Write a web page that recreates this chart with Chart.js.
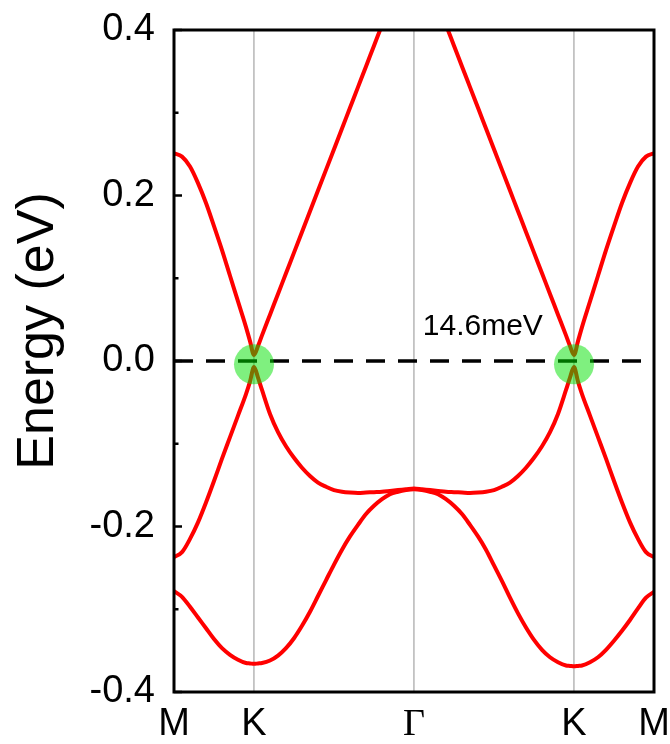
<!DOCTYPE html>
<html><head><meta charset="utf-8">
<script src="https://cdn.jsdelivr.net/npm/chart.js@4.4.1/dist/chart.umd.min.js"></script>
<style>html,body{margin:0;padding:0;background:#fff;} #wrap{width:670px;height:744px;}</style>
</head><body><div id="wrap"><canvas id="c" width="670" height="744"></canvas></div>
<script>
// k-path coordinate (M=0, K=1, Gamma=3, K=5, M=6)
const kPathX = [0,0.1,0.2,0.3,0.4,0.5,0.6,0.7,0.8,0.9,0.95,1,1.05,1.1,1.2,1.3,1.4,1.5,1.6,1.7,1.8,1.9,2,2.1,2.2,2.3,2.4,2.5,2.6,2.7,2.8,2.9,3,3.1,3.2,3.3,3.4,3.5,3.6,3.7,3.8,3.9,4,4.1,4.2,4.3,4.4,4.5,4.6,4.7,4.8,4.9,4.95,5,5.05,5.1,5.2,5.3,5.4,5.5,5.6,5.7,5.8,5.9,6];
const kLabelPos = [0,1,3,5,6];
const kLabels = ['M','K','Γ','K','M'];
const kGridPos = [1,3,5];
// band energies (eV)
const bandUpper = [0.251,0.247,0.235,0.215,0.191,0.163,0.134,0.103,0.072,0.041,0.024,0.0073,0.018,0.031,0.056,0.081,0.106,0.131,0.156,0.181,0.206,0.231,0.256,0.281,0.306,0.331,0.356,0.381,0.406,0.430,0.450,0.462,0.466,0.462,0.450,0.430,0.406,0.381,0.356,0.331,0.306,0.281,0.256,0.231,0.206,0.181,0.156,0.131,0.106,0.081,0.056,0.031,0.018,0.0073,0.024,0.041,0.072,0.103,0.134,0.163,0.191,0.215,0.235,0.247,0.251];
const bandMiddle = [-0.237,-0.231,-0.215,-0.195,-0.171,-0.145,-0.118,-0.092,-0.066,-0.040,-0.025,-0.0073,-0.020,-0.035,-0.064,-0.086,-0.103,-0.117,-0.129,-0.139,-0.147,-0.152,-0.156,-0.158,-0.159,-0.1595,-0.159,-0.1585,-0.158,-0.157,-0.156,-0.155,-0.154,-0.155,-0.156,-0.157,-0.158,-0.1585,-0.159,-0.1595,-0.159,-0.158,-0.156,-0.152,-0.147,-0.139,-0.129,-0.117,-0.103,-0.086,-0.064,-0.035,-0.020,-0.0073,-0.025,-0.040,-0.066,-0.092,-0.118,-0.145,-0.171,-0.195,-0.215,-0.231,-0.237];
const bandLower = [-0.278,-0.285,-0.297,-0.310,-0.323,-0.336,-0.347,-0.355,-0.361,-0.365,-0.3655,-0.366,-0.3655,-0.365,-0.362,-0.356,-0.347,-0.335,-0.320,-0.303,-0.284,-0.265,-0.246,-0.228,-0.212,-0.198,-0.185,-0.175,-0.167,-0.161,-0.158,-0.156,-0.155,-0.156,-0.158,-0.161,-0.167,-0.175,-0.185,-0.198,-0.212,-0.228,-0.247,-0.266,-0.286,-0.305,-0.322,-0.337,-0.349,-0.358,-0.364,-0.368,-0.3685,-0.369,-0.3685,-0.368,-0.364,-0.358,-0.349,-0.338,-0.326,-0.313,-0.299,-0.286,-0.279];
// Dirac-point markers
const diracX = [1,5];
const diracE = [-0.004,-0.004];
const fermiE = 0;
const yTicks = [-0.4,-0.2,0,0.2,0.4];
const yMinorTicks = [-0.3,-0.1,0.1,0.3];
const gapLabel = '14.6meV';
const gapLabelX = 3.86, gapLabelE = 0.041;
const yTitle = 'Energy (eV)';

const SANS = '"Liberation Sans", Arial, Helvetica, sans-serif';
const SERIF = '"Liberation Serif", "Times New Roman", serif';

const decor = {
  id: 'decor',
  afterDatasetsDraw(chart) {
    const {ctx, chartArea: a, scales: {x, y}} = chart;
    ctx.save();
    ctx.strokeStyle = '#000';
    ctx.lineWidth = 2.5;
    yTicks.forEach(v => { const p = y.getPixelForValue(v); ctx.beginPath(); ctx.moveTo(a.left, p); ctx.lineTo(a.left + 8, p); ctx.stroke(); });
    yMinorTicks.forEach(v => { const p = y.getPixelForValue(v); ctx.beginPath(); ctx.moveTo(a.left, p); ctx.lineTo(a.left + 4.5, p); ctx.stroke(); });
    ctx.lineWidth = 3;
    ctx.strokeRect(a.left, a.top, a.right - a.left, a.bottom - a.top);
    ctx.fillStyle = '#000';
    ctx.font = '30px ' + SANS;
    ctx.textAlign = 'center';
    ctx.textBaseline = 'middle';
    ctx.fillText(gapLabel, x.getPixelForValue(gapLabelX), y.getPixelForValue(gapLabelE));
    ctx.translate(39, (a.top + a.bottom) / 2 - 30);
    ctx.rotate(-Math.PI / 2);
    ctx.font = '52px ' + SANS;
    ctx.fillText(yTitle, 0, 0);
    ctx.restore();
  }
};

const bandDs = [bandUpper, bandMiddle, bandLower].map(b => ({
  data: kPathX.map((k, i) => ({x: k, y: b[i]})),
  borderColor: '#ff0000', borderWidth: 4, pointRadius: 0,
  cubicInterpolationMode: 'monotone', fill: false, clip: 0, order: 1
}));

new Chart(document.getElementById('c'), {
  type: 'line',
  data: {
    datasets: [
      { data: diracX.map((k, i) => ({x: k, y: diracE[i]})), showLine: false,
        pointRadius: 20, pointHoverRadius: 20, pointBackgroundColor: 'rgba(0,225,0,0.5)',
        pointBorderWidth: 0, pointBorderColor: 'rgba(0,0,0,0)', order: 0, clip: false },
      ...bandDs,
      { data: [{x: kLabelPos[0], y: fermiE}, {x: kLabelPos[kLabelPos.length - 1], y: fermiE}],
        borderColor: '#000', borderWidth: 3.5, borderDash: [19, 13], pointRadius: 0, order: 2, clip: 0 }
    ]
  },
  options: {
    responsive: false, animation: false, events: [],
    layout: { padding: {top: 30, right: 16, left: 0, bottom: 0}, autoPadding: false },
    plugins: { legend: {display: false}, tooltip: {enabled: false} },
    scales: {
      x: {
        type: 'linear', min: 0, max: 6,
        afterBuildTicks: s => { s.ticks = kLabelPos.map(v => ({value: v})); },
        afterFit: s => { s.height = 52; s.paddingLeft = 0; s.paddingRight = 0; s.paddingTop = 0; s.paddingBottom = 0; },
        ticks: {
          autoSkip: false, maxRotation: 0, minRotation: 0, padding: 10, color: '#000',
          font: c => ({ size: 38, family: (c.tick && c.tick.label === 'Γ') ? SERIF : SANS }),
          callback: v => kLabels[kLabelPos.indexOf(v)]
        },
        grid: { drawTicks: false, lineWidth: 1.8,
          color: c => (c.tick && kGridPos.includes(c.tick.value)) ? '#c2c2c2' : 'rgba(0,0,0,0)' },
        border: { display: false }
      },
      y: {
        type: 'linear', min: -0.4, max: 0.4,
        afterBuildTicks: s => { s.ticks = yTicks.map(v => ({value: v})); },
        afterFit: s => { s.width = 174; s.paddingLeft = 0; s.paddingRight = 0; s.paddingTop = 0; s.paddingBottom = 0; },
        ticks: { padding: 11, color: '#000', font: {size: 38, family: SANS}, callback: v => v.toFixed(1) },
        grid: { display: false },
        border: { display: false }
      }
    }
  },
  plugins: [decor]
});
</script>
</body></html>
